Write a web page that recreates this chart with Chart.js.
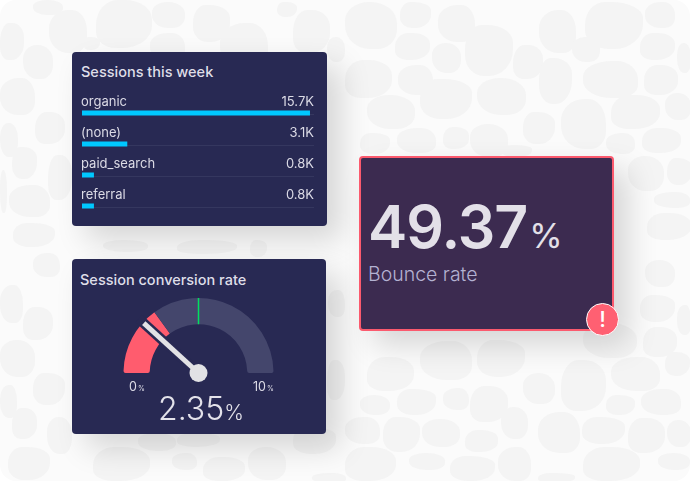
<!DOCTYPE html>
<html>
<head>
<meta charset="utf-8">
<script src="https://cdn.jsdelivr.net/npm/chart.js@4"></script>
<style>
html, body { margin: 0; padding: 0; background: #fff; }
body { width: 690px; height: 481px; overflow: hidden; position: relative; font-family: Inter, sans-serif; }
#bg { position: absolute; left: 0; top: 0; width: 690px; height: 481px; background: #fbfbfb; border-radius: 16px; overflow: hidden; }
.blob { position: absolute; background: #f4f4f4; }
.card { position: absolute; background: #282953; border-radius: 4px; box-shadow: 14px 14px 30px rgba(0,0,0,.15); }
.card canvas { position: absolute; }
.title { position: absolute; color: #dfdee8; font-size: 14.5px; font-weight: 500; white-space: nowrap; }
#sessions { left: 72px; top: 52px; width: 255px; height: 174px; }
#conversion { left: 72px; top: 259px; width: 254px; height: 175px; }
#bounce { left: 359px; top: 156px; width: 251px; height: 171px; background: #3c2b50; border: 2px solid #fb5a6e; }
#bigValue { position: absolute; left: 7px; top: 33px; color: #e3e0e8; font-size: 59px; font-weight: 600; letter-spacing: -1px; white-space: nowrap; line-height: 72px; }
#bigValue span { font-size: 34px; font-weight: 400; margin-left: 2px; letter-spacing: 0; }
#bigLabel { position: absolute; left: 7px; top: 104px; color: #b4b2d2; font-size: 19.5px; font-weight: 300; white-space: nowrap; }
#alert { position: absolute; left: 586px; top: 303px; width: 33px; height: 33px; border-radius: 50%; background: #ff6072; border: 1px solid #fff; box-sizing: border-box; color: #fff; font-size: 22px; font-weight: 500; text-align: center; line-height: 30px; }
</style>
</head>
<body>
<div id="bg"></div>
<div class="card" id="sessions">
  <div class="title" style="left:9px;top:11px">Sessions this week</div>
  <canvas id="barChart" width="240" height="132" style="left:6px;top:38px"></canvas>
</div>
<div class="card" id="conversion">
  <div class="title" style="left:8px;top:12px">Session conversion rate</div>
  <canvas id="gaugeChart" width="254" height="175" style="left:0;top:0"></canvas>
</div>
<div class="card" id="bounce">
  <div id="bigValue">49.37<span>%</span></div>
  <div id="bigLabel">Bounce rate</div>
</div>
<div id="alert">!</div>

<script>
// sessions
const channels = ['organic', '(none)', 'paid_search', 'referral'];
const sessionsK = [15.7, 3.1, 0.8, 0.8];

// conversion gauge
const gaugeMin = 0;
const gaugeMax = 10;
const gaugeValue = 2.35;
const gaugeThreshold = 3;
const gaugeTarget = 5;

// background pebbles, x y w h
const blobs = [
  [345,2,52,47],[400,2,31,26],[438,5,37,37],[395,33,35,27],[432,43,29,30],[465,25,48,51],[539,10,37,43],[513,45,30,34],
  [572,37,28,25],[585,2,58,47],[645,2,30,26],[640,33,35,27],[677,43,14,30],[539,58,33,46],[583,61,55,37],[644,65,34,30],
  [477,78,49,37],[420,79,52,40],[398,65,35,30],[345,60,47,38],[367,95,48,34],[523,112,32,32],[561,99,45,50],[611,95,49,34],
  [665,93,26,27],[360,133,30,21],[397,128,39,25],[443,127,26,22],[470,124,38,33],[502,145,30,12],[606,133,29,21],[642,128,39,25],
  [628,156,36,35],[667,158,25,27],[654,192,36,16],[647,213,44,27],[645,260,30,27],[640,295,35,27],[677,305,14,30],[643,327,34,30],
  [583,323,54,35],[665,352,25,24],[611,357,49,34],[561,360,45,51],[523,373,32,31],[477,340,48,37],[420,341,52,39],[367,357,47,34],
  [360,395,30,20],[397,389,39,26],[443,388,26,22],[470,386,38,36],[501,407,27,32],[606,395,29,20],[641,389,40,26],[628,418,37,35],
  [667,420,24,27],[582,417,43,27],[538,412,42,41],[465,430,33,22],[422,419,38,28],[383,417,37,35],[345,417,35,27],[345,447,51,34],
  [409,453,36,17],[450,456,45,25],[498,447,33,34],[583,447,57,34],[658,453,32,17],[538,473,37,10],
  [49,10,38,43],[96,0,56,48],[152,2,33,26],[193,5,37,37],[150,33,35,27],[0,23,24,37],[23,45,30,34],[83,37,17,13],
  [220,23,48,45],[293,10,37,43],[327,37,18,25],[277,2,20,15],[0,78,35,37],[35,112,30,32],[0,123,18,34],[12,147,25,32],
  [9,185,41,32],[48,155,24,45],[0,170,7,43],[13,223,42,24],[0,285,23,38],[23,307,30,33],[0,340,35,37],[33,373,32,32],
  [0,385,17,33],[12,408,25,31],[47,417,25,37],[8,447,42,33],[33,253,27,24],[93,447,57,34],[138,433,38,18],[177,433,43,14],
  [172,453,25,17],[203,457,42,24],[248,447,38,33],[293,427,43,27],[312,473,34,10],[177,240,60,14],[103,240,45,12],[250,240,17,17],
  [328,290,17,27],[327,360,18,40],[33,0,30,15]
];
const blobShapes = [
  '46% 50% 38% 48% / 40% 46% 42% 50%',
  '34% 54% 50% 40% / 48% 34% 52% 40%',
  '52% 38% 34% 52% / 42% 50% 36% 46%',
  '38% 48% 52% 34% / 52% 40% 46% 34%'
];
const bg = document.getElementById('bg');
blobs.forEach(function(b, i) {
  const d = document.createElement('div');
  d.className = 'blob';
  d.style.cssText = 'left:' + b[0] + 'px;top:' + b[1] + 'px;width:' + b[2] + 'px;height:' + b[3] + 'px;border-radius:' + blobShapes[i % 4];
  bg.appendChild(d);
});

// track line and text for every row
const rowText = {
  id: 'rowText',
  beforeDatasetsDraw(chart) {
    const c = chart.ctx;
    const area = chart.chartArea;
    c.save();
    c.fillStyle = '#35375f';
    chart.getDatasetMeta(0).data.forEach(function(bar) {
      c.fillRect(area.left, bar.y + 1, area.right - area.left, 1);
    });
    c.restore();
  },
  afterDatasetsDraw(chart) {
    const c = chart.ctx;
    const area = chart.chartArea;
    c.save();
    c.font = '400 13px Inter';
    c.fillStyle = '#dcdbe6';
    c.textBaseline = 'middle';
    chart.getDatasetMeta(0).data.forEach(function(bar, i) {
      c.textAlign = 'left';
      c.fillText(channels[i], area.left - 1, bar.y - 11);
      c.textAlign = 'right';
      c.fillText(sessionsK[i].toFixed(1) + 'K', area.right, bar.y - 11);
    });
    c.restore();
  }
};

new Chart(document.getElementById('barChart'), {
  type: 'bar',
  data: {
    labels: channels,
    datasets: [{
      data: sessionsK,
      backgroundColor: '#00c8ff',
      borderWidth: 0,
      barThickness: 4.5
    }]
  },
  options: {
    indexAxis: 'y',
    animation: false,
    responsive: false,
    layout: { padding: { left: 4, right: 4, top: 7.5, bottom: 0.5 } },
    plugins: { legend: { display: false }, tooltip: { enabled: false } },
    scales: {
      x: { display: false, min: 0, max: 16 },
      y: { display: false }
    }
  },
  plugins: [rowText]
});

// needle, target tick and gauge texts
const gaugeParts = {
  id: 'gaugeParts',
  afterDatasetsDraw(chart) {
    const c = chart.ctx;
    const arc = chart.getDatasetMeta(0).data[0];
    const cx = arc.x;
    const cy = arc.y;
    const outer = arc.outerRadius;
    const inner = arc.innerRadius;
    const angle = function(v) {
      return Math.PI + (v - gaugeMin) / (gaugeMax - gaugeMin) * Math.PI;
    };

    c.save();
    const ta = angle(gaugeTarget);
    c.strokeStyle = '#00e060';
    c.lineWidth = 1.5;
    c.beginPath();
    c.moveTo(cx + inner * Math.cos(ta), cy + inner * Math.sin(ta));
    c.lineTo(cx + outer * Math.cos(ta), cy + outer * Math.sin(ta));
    c.stroke();

    const na = angle(gaugeValue);
    c.strokeStyle = '#282953';
    c.lineWidth = 10;
    c.beginPath();
    c.moveTo(cx, cy);
    c.lineTo(cx + (outer + 6) * Math.cos(na), cy + (outer + 6) * Math.sin(na));
    c.stroke();
    c.strokeStyle = '#e2e2e5';
    c.lineWidth = 5;
    c.beginPath();
    c.moveTo(cx, cy);
    c.lineTo(cx + (outer - 1) * Math.cos(na), cy + (outer - 1) * Math.sin(na));
    c.stroke();
    c.fillStyle = '#e2e2e5';
    c.beginPath();
    c.arc(cx, cy, 9, 0, Math.PI * 2);
    c.fill();

    c.textBaseline = 'alphabetic';
    c.fillStyle = '#dcdbe6';
    c.textAlign = 'left';
    c.font = '400 12.5px Inter';
    c.fillText(String(gaugeMin), 57, 132);
    c.fillText(String(gaugeMax), 181, 132);
    const minW = c.measureText(String(gaugeMin)).width;
    const maxW = c.measureText(String(gaugeMax)).width;
    c.font = '400 7px Inter';
    c.fillText('%', 57 + minW + 1, 132);
    c.fillText('%', 181 + maxW + 1, 132);

    c.fillStyle = '#e3e2ea';
    c.font = '300 32px Inter';
    c.fillText(gaugeValue.toFixed(2), 86, 161);
    const valW = c.measureText(gaugeValue.toFixed(2)).width;
    c.font = '300 21px Inter';
    c.fillText('%', 86 + valW, 161);
    c.restore();
  }
};

new Chart(document.getElementById('gaugeChart'), {
  type: 'doughnut',
  data: {
    datasets: [{
      data: [gaugeThreshold - gaugeMin, gaugeMax - gaugeThreshold],
      backgroundColor: ['#ff5c6e', '#44466c'],
      borderWidth: 0,
      borderRadius: [
        { outerStart: 2, innerStart: 2, outerEnd: 0, innerEnd: 0 },
        { outerStart: 0, innerStart: 0, outerEnd: 2, innerEnd: 2 }
      ]
    }]
  },
  options: {
    animation: false,
    responsive: false,
    rotation: -90,
    circumference: 180,
    cutout: '65%',
    layout: { padding: { left: 51.5, right: 52.5, top: 39, bottom: 61 } },
    plugins: { legend: { display: false }, tooltip: { enabled: false } }
  },
  plugins: [gaugeParts]
});
</script>
</body>
</html>
